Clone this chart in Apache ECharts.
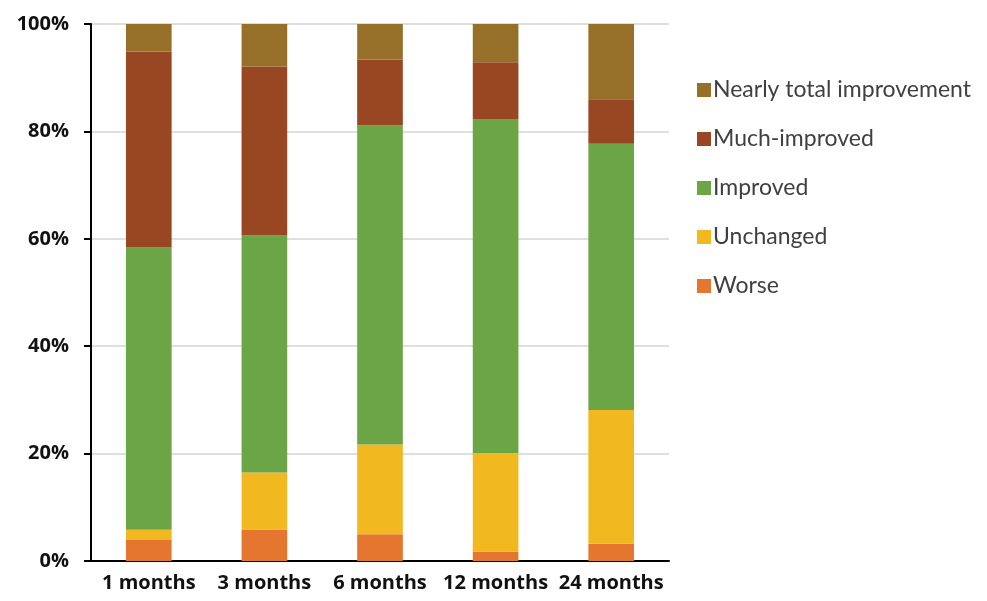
<!DOCTYPE html>
<html>
<head>
<meta charset="utf-8">
<script src="https://cdn.jsdelivr.net/npm/echarts@6/dist/echarts.min.js"></script>
<style>
  html, body { margin: 0; padding: 0; background: #fff; }
  #chart { width: 987px; height: 601px; }
</style>
</head>
<body>
<div id="chart"></div>
<script>
// Follow-up time points
const categories = ['1 months', '3 months', '6 months', '12 months', '24 months'];

// Share of patients (%) in each outcome group, per time point
const worse = [3.9, 5.8, 5.0, 1.7, 3.2];
const unchanged = [1.9, 10.7, 16.7, 18.4, 24.9];
const improved = [52.6, 44.1, 59.4, 62.2, 49.6];
const muchImproved = [36.5, 31.5, 12.3, 10.6, 8.3];
const nearlyTotal = [5.1, 7.9, 6.6, 7.1, 14.0];

// Y axis ticks
const yTicks = [0, 20, 40, 60, 80, 100];

const seriesDefs = [
  { name: 'Worse', data: worse, color: '#E4762F' },
  { name: 'Unchanged', data: unchanged, color: '#F2B81F' },
  { name: 'Improved', data: improved, color: '#6CA545' },
  { name: 'Much-improved', data: muchImproved, color: '#984722' },
  { name: 'Nearly total improvement', data: nearlyTotal, color: '#967029' }
];

const chart = echarts.init(document.getElementById('chart'), null, { renderer: 'canvas' });

chart.setOption({
  animation: false,
  backgroundColor: '#ffffff',
  grid: { left: 91, right: 318, top: 24, bottom: 40, containLabel: false },
  legend: {
    orient: 'vertical',
    left: 692,
    top: 73,
    itemWidth: 14,
    itemHeight: 14,
    itemGap: 25,
    icon: 'rect',
    data: seriesDefs.map(s => s.name).reverse(),
    textStyle: {
      fontFamily: 'Lato',
      fontSize: 23,
      color: '#404040',
      lineHeight: 24,
      padding: [0, 0, 0, -3]
    }
  },
  xAxis: {
    type: 'category',
    data: categories,
    axisLine: { lineStyle: { color: '#000', width: 2 } },
    axisTick: { alignWithLabel: true, length: 6, lineStyle: { color: '#000', width: 2 } },
    axisLabel: {
      interval: 0,
      margin: 12,
      fontFamily: 'Open Sans',
      fontWeight: 'bold',
      fontSize: 20,
      color: '#111'
    }
  },
  yAxis: {
    type: 'value',
    position: 'left',
    min: yTicks[0],
    max: yTicks[yTicks.length - 1],
    interval: yTicks[1] - yTicks[0],
    axisLine: { show: true, onZero: false, lineStyle: { color: '#000', width: 2 } },
    axisTick: { show: true, length: 7, lineStyle: { color: '#000', width: 2 } },
    splitLine: { show: true, lineStyle: { color: '#d4d4d4', width: 1.5 } },
    axisLabel: {
      margin: 22,
      formatter: v => v + '%',
      fontFamily: 'Open Sans',
      fontWeight: 'bold',
      fontSize: 20,
      color: '#111'
    }
  },
  series: seriesDefs.map(s => ({
    name: s.name,
    type: 'bar',
    stack: 'total',
    barWidth: '39.5%',
    data: s.data,
    itemStyle: { color: s.color }
  }))
});
</script>
</body>
</html>
